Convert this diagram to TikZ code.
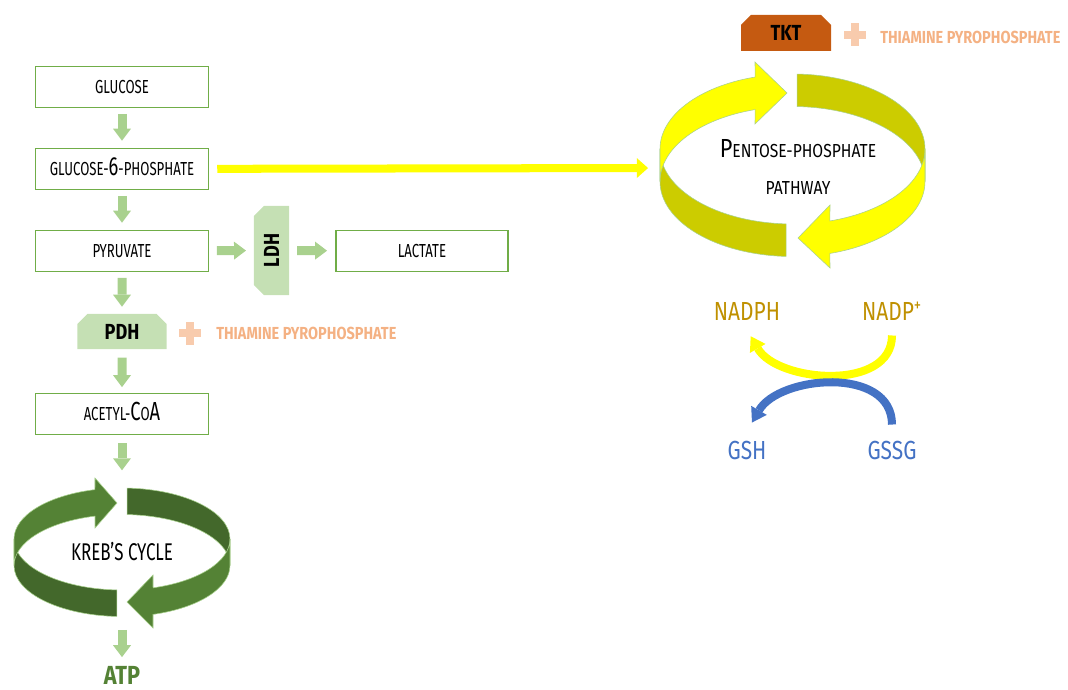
\documentclass[tikz,border=0pt]{standalone}
\usepackage{fontspec}
\setmainfont{Fira Sans}[FakeStretch=0.70]
\newfontfamily\widefont{Fira Sans}[FakeStretch=0.80]
\newfontfamily\enzfont{Fira Sans}[FakeStretch=0.83]
\usetikzlibrary{arrows.meta}
\usetikzlibrary{shapes.misc}

\definecolor{boxline}{HTML}{70AD47}
\definecolor{flowgreen}{HTML}{A9D18E}
\definecolor{enzgreen}{HTML}{C5E0B4}
\definecolor{krebslight}{HTML}{548235}
\definecolor{krebsdark}{HTML}{43682B}
\definecolor{ppyellow}{HTML}{FFFF00}
\definecolor{ppolive}{HTML}{CCCC00}
\definecolor{tktorange}{HTML}{C55A11}
\definecolor{plusrose}{HTML}{F8CBAD}
\definecolor{tppcolor}{HTML}{F4B183}
\definecolor{nadpgold}{HTML}{BF9000}
\definecolor{gshblue}{HTML}{4472C4}

\newcommand{\scfont}{\fontsize{13.4pt}{14pt}\selectfont}
\newcommand{\capsz}[1]{{\fontsize{18.6pt}{19pt}\selectfont #1}}

\tikzset{
  metab/.style={draw=boxline, line width=1.07pt, minimum width=123pt, minimum height=29.2pt,
    inner sep=0pt, text height=9.3pt, text depth=0pt, font=\scfont},
  enzyme/.style={chamfered rectangle, chamfered rectangle xsep=3.5pt, chamfered rectangle ysep=3.5pt,
    chamfered rectangle corners={north west, north east},
    fill=enzgreen, inner sep=0pt, font=\enzfont\fontsize{15.5pt}{16pt}\selectfont\bfseries},
  flow/.style={draw=flowgreen, line width=6.4pt, shorten <=4pt, shorten >=5pt,
    -{Triangle[width=12.8pt, length=8.5pt, line width=0pt]}},
  swingarrow/.style={line width=5.7pt,
    -{Triangle[width=12.8pt, length=10pt, line width=0pt]}},
  tpp/.style={tppcolor, inner sep=0pt, anchor=west, font=\enzfont\fontsize{12.4pt}{13pt}\selectfont\bfseries},
  cofactor/.style={inner sep=0pt, text height=13pt, text depth=0pt, font=\widefont\fontsize{18.6pt}{19pt}\selectfont},
  tppplus/.pic={
    \fill[plusrose] (-11,-3.8) rectangle (11,3.8);
    \fill[plusrose] (-3.8,-11.5) rectangle (3.8,11.5);
  }
}

\begin{document}
\begin{tikzpicture}[x=0.025cm, y=0.025cm]
\useasboundingbox (0,0) rectangle (1068,-690);
% glycolysis column
\node[metab] (glucose) at (122,-87) {GLUCOSE};
\node[metab] (g6p) at (122,-169) {GLUCOSE-\capsz{6}-PHOSPHATE};
\node[metab] (pyruvate) at (122,-251) {PYRUVATE};
\node[metab, minimum width=122pt] (lactate) at (422,-251) {LACTATE};
\node[enzyme, rotate=90, minimum width=63.3pt, minimum height=24.9pt] (ldh) at (271.5,-250.5) {LDH};
\node[enzyme, minimum width=63.3pt, minimum height=24.9pt] (pdh) at (122,-331.5) {PDH};
\pic at (190,-333) {tppplus};
\node[tpp] (tpp1) at (216,-333) {THIAMINE PYROPHOSPHATE};
\node[metab] (acetyl) at (122,-414) {ACETYL-\capsz{C}O\capsz{A}};
\coordinate (krebtop) at (122,-478);
\coordinate (krebbot) at (122,-627);
\node[font=\fontsize{17.2pt}{18pt}\selectfont] (kreb) at (122,-552) {KREB’S CYCLE};
\node[krebslight, inner sep=0pt, text height=13pt, text depth=0pt,
  font=\enzfont\fontsize{18.6pt}{19pt}\selectfont\bfseries] (atp) at (122,-675) {ATP};
% kreb's cycle ribbon
\begin{scope}[draw=flowgreen, line width=0.4pt]
\filldraw[fill=krebsdark] (122,-539) ++(87.3:108 and 51)
  arc[start angle=87.3, end angle=0, x radius=108, y radius=51] -- ++(0,-26.5)
  arc[start angle=0, end angle=87.3, x radius=108, y radius=51] -- cycle;
\filldraw[fill=krebsdark] (14,-539)
  arc[start angle=180, end angle=267.3, x radius=108, y radius=51] -- ++(0,-26.5)
  arc[start angle=267.3, end angle=180, x radius=108, y radius=51] -- cycle;
\filldraw[fill=krebslight] (14,-539)
  arc[start angle=180, end angle=104.5, x radius=108, y radius=51]
  -- (95,-478) -- (117,-503) -- (95,-528) -- (95,-516.1)
  arc[start angle=104.5, end angle=180, x radius=108, y radius=51] -- cycle;
\filldraw[fill=krebslight] (230,-539)
  arc[start angle=0, end angle=-73.3, x radius=108, y radius=51]
  -- (153,-575) -- (127,-602) -- (153,-628) -- (153,-614.4)
  arc[start angle=-73.3, end angle=0, x radius=108, y radius=51] -- cycle;
\end{scope}
% arrows of the column
\draw[flow] (glucose) -- (g6p);
\draw[flow] (g6p) -- (pyruvate);
\draw[flow] (pyruvate) -- (pdh);
\draw[flow, shorten <=6pt, shorten >=4pt] (pdh) -- (acetyl);
\draw[flow, shorten <=5.5pt, shorten >=5.5pt] (acetyl) -- (krebtop);
\draw[flow, shorten <=2pt, shorten >=6pt] (krebbot) -- (atp);
\draw[flow, shorten <=5.5pt, shorten >=5.5pt] (pyruvate) -- (ldh);
\draw[flow, shorten <=5.5pt, shorten >=6pt] (ldh) -- (lactate);
% pentose-phosphate pathway
\coordinate (ppwest) at (660,-168);
\begin{scope}[draw=flowgreen, line width=0.4pt]
\filldraw[fill=ppolive] (792.5,-149) ++(88:132.5 and 75)
  arc[start angle=88, end angle=0, x radius=132.5, y radius=75] -- ++(0,-32.5)
  arc[start angle=0, end angle=88, x radius=132.5, y radius=75] -- cycle;
\filldraw[fill=ppolive] (660,-149)
  arc[start angle=180, end angle=267.2, x radius=132.5, y radius=75] -- ++(0,-32.5)
  arc[start angle=267.2, end angle=180, x radius=132.5, y radius=75] -- cycle;
\filldraw[fill=ppyellow] (660,-149)
  arc[start angle=180, end angle=106.4, x radius=132.5, y radius=75]
  -- (755,-62) -- (787,-93) -- (755,-124) -- (755.1,-109.55)
  arc[start angle=106.4, end angle=180, x radius=132.5, y radius=75] -- cycle;
\filldraw[fill=ppyellow] (925,-149)
  arc[start angle=0, end angle=-73.6, x radius=132.5, y radius=75]
  -- (830,-205) -- (798,-238) -- (830,-268) -- (829.9,-253.45)
  arc[start angle=-73.6, end angle=0, x radius=132.5, y radius=75] -- cycle;
\end{scope}
\node[align=center, inner sep=0pt, font=\enzfont\scfont] (pentose) at (798,-167)
  {\capsz{P}ENTOSE-PHOSPHATE\\[13pt] PATHWAY};
\draw[draw=ppyellow, line width=5.7pt, shorten <=5.7pt, shorten >=8.5pt,
  -{Triangle[width=14.2pt, length=8pt, line width=0pt]}] (g6p) -- (ppwest);
\node[enzyme, fill=tktorange, minimum width=64pt, minimum height=25.6pt] (tkt) at (786,-33) {TKT};
\pic at (855,-35) {tppplus};
\node[tpp] (tpp2) at (880,-37) {THIAMINE PYROPHOSPHATE};
% cofactors
\node[cofactor, nadpgold] (nadph) at (747,-311) {NADPH};
\node[cofactor, nadpgold] (nadpp) at (892,-311) {NADP\textsuperscript{+}};
\node[cofactor, gshblue] (gsh) at (747,-450) {GSH};
\node[cofactor, gshblue] (gssg) at (892,-450) {GSSG};
\draw[swingarrow, draw=ppyellow, looseness=1.22, shorten <=10.7pt, shorten >=13pt]
  (nadpp.south) to[out=-90, in=-60] (nadph.240);
\draw[swingarrow, draw=gshblue, looseness=1.28, shorten <=11.4pt, shorten >=14.8pt]
  (gssg.north) to[out=90, in=60] (gsh.120);
\end{tikzpicture}
\end{document}
